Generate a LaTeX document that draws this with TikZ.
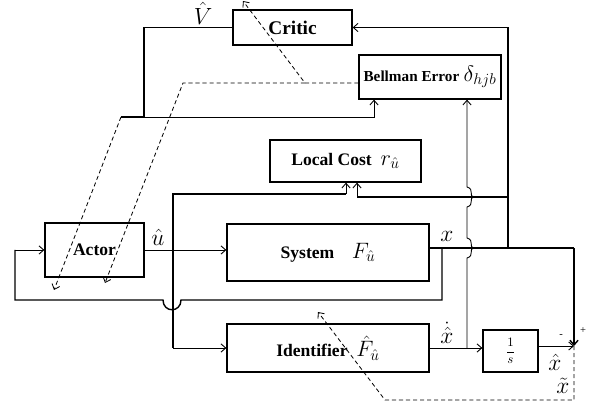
\RequirePackage{fix-cm}
\documentclass[tikz,border=0pt]{standalone}
\usepackage{fontspec}
\setmainfont{Liberation Serif}
\usetikzlibrary{arrows.meta}
\begin{document}
\begin{tikzpicture}[x=0.03cm,y=-0.03cm,
  blk/.style={draw,line width=1.1pt,inner sep=0pt,font=\fontsize{15}{17}\selectfont\bfseries},
  thk/.style={line width=1.2pt},
  thn/.style={line width=0.75pt},
  arr/.style={-{Straight Barb[length=4pt,width=7pt]}},
  dsh/.style={line width=0.7pt,dash pattern=on 3.5pt off 2.5pt},
  lbl/.style={font=\fontsize{20}{22}\selectfont,inner sep=0pt}]
\useasboundingbox (0,0) rectangle (591,405);

% blocks
\node[blk,minimum width=119*0.03cm,minimum height=35*0.03cm] (critic) at (292.5,27.5)
  {\fontsize{16.5}{18}\selectfont Critic};
\node[blk,minimum width=142*0.03cm,minimum height=44*0.03cm] (bellman) at (430,77)
  {{\fontsize{13}{15}\selectfont Bellman Error} {\fontsize{19}{21}\selectfont$\delta_{hjb}$}};
\node[blk,minimum width=151*0.03cm,minimum height=42*0.03cm] (local) at (345.5,161)
  {Local Cost\ \ {\fontsize{19}{21}\selectfont$r_{\hat u}$}};
\node[blk,minimum width=99*0.03cm,minimum height=54*0.03cm] (actor) at (94.5,250) {Actor};
\node[blk,minimum width=202*0.03cm,minimum height=57*0.03cm] (system) at (328,252.5)
  {System\quad {\fontsize{19}{21}\selectfont$F_{\hat u}$}};
\node[blk,minimum width=202*0.03cm,minimum height=48*0.03cm] (identifier) at (328,348)
  {Identifier\ \ {\fontsize{19}{21}\selectfont$\hat F_{\hat u}$}};
\node[blk,minimum width=55*0.03cm,minimum height=42*0.03cm] (integ) at (510.5,351)
  {\fontsize{11}{13}\selectfont$\displaystyle\frac{1}{s}$};

% critic output V hat
\coordinate (c1) at (144,27.5);
\coordinate (c2) at (144,117);
\coordinate (c3) at (121,117);
\coordinate (c4) at (374,117);
\draw[thk] (critic.west) -- (c1) -- (c2) -- (c3);
\draw[thn,arr] (c2) -- (c4) -- (c4 |- bellman.south);
\node[lbl] (vhat) at (203,13) {$\hat V$};

% dashed tuning signals
\coordinate (t1) at (54,290);
\draw[dsh,arr] (c3) -- (t1);
\coordinate (b2) at (305,83);
\coordinate (b3) at (183,83);
\coordinate (t2) at (243,1);
\coordinate (t3) at (105,283);
\draw[dsh,arr] ([yshift=-0.18cm]bellman.west) -- (b2) -- (t2);
\draw[dsh,arr] (b2) -- (b3) -- (t3);

% u hat
\draw[thn,arr] (actor.east) -- (actor.east -| system.west);
\node[lbl] (uhat) at (158,237) {$\hat u$};
\coordinate (u1) at (173,194);
\coordinate (u2) at (346,194);
\coordinate (u3) at (173,348);
\draw[thk] (u2) -- (u1) -- (u3);
\draw[thn,arr] (u2) -- (u2 |- local.south);
\draw[thn,arr] (u3) -- (u3 -| identifier.west);

% x output
\coordinate (x1) at (442,248);
\coordinate (x2) at (508,248);
\coordinate (x3) at (574,248);
\coordinate (S) at (574,346);
\draw[thk] ([yshift=0.135cm]system.east) -- (x3);
\draw[thk,arr] (x3) -- (S);
\node[lbl] (xlab) at (447,236) {$x$};
% feedback to actor
\coordinate (f1) at (442,300);
\coordinate (f2) at (181,300);
\coordinate (f3) at (163,300);
\coordinate (f4) at (15,300);
\coordinate (f5) at (15,250);
\draw[thk] (x1) -- (f1) -- (f2) .. controls (181,313) and (163,313) .. (f3) -- (f4) -- (f5);
\draw[thn,arr] (f5) -- (f5 -| actor.west);
% x to critic and local cost
\coordinate (k1) at (508,27.5);
\draw[thk] (x2) -- (k1);
\draw[thn,arr] (k1) -- (critic.east);
\coordinate (l1) at (508,197);
\coordinate (l2) at (357,197);
\draw[thk] (l1) -- (l2);
\draw[thn,arr] (l2) -- (l2 |- local.south);

% identifier output
\draw[thn,arr] (identifier.east) -- (identifier.east -| integ.west);
\node[lbl] (xdot) at (447,333) {$\dot{\hat x}$};
\coordinate (d1) at (467,348);
\draw[thn,arr] (d1) -- (467,258) .. controls (475,256) and (468,248) .. (474,248)
  .. controls (468,248) and (475,240) .. (467,238)
  -- (467,207) .. controls (475,205) and (468,197) .. (474,197)
  .. controls (468,197) and (475,189) .. (467,187) -- (d1 |- bellman.south);

% integrator output and sum
\draw[thn,arr] (integ.east |- S) -- (S);
\node[lbl] (xhat) at (555,362) {$\hat x$};
\node[font=\fontsize{9}{10}\selectfont,inner sep=0pt] (minus) at (561,336) {-};
\node[font=\fontsize{9}{10}\selectfont,inner sep=0pt] (plus) at (583,331) {+};
\coordinate (e1) at (574,400);
\coordinate (e2) at (385,400);
\coordinate (t4) at (318,312);
\draw[dsh,arr] (S) -- (e1) -- (e2) -- (t4);
\node[lbl] (xtil) at (563,386) {$\tilde x$};
\end{tikzpicture}
\end{document}
